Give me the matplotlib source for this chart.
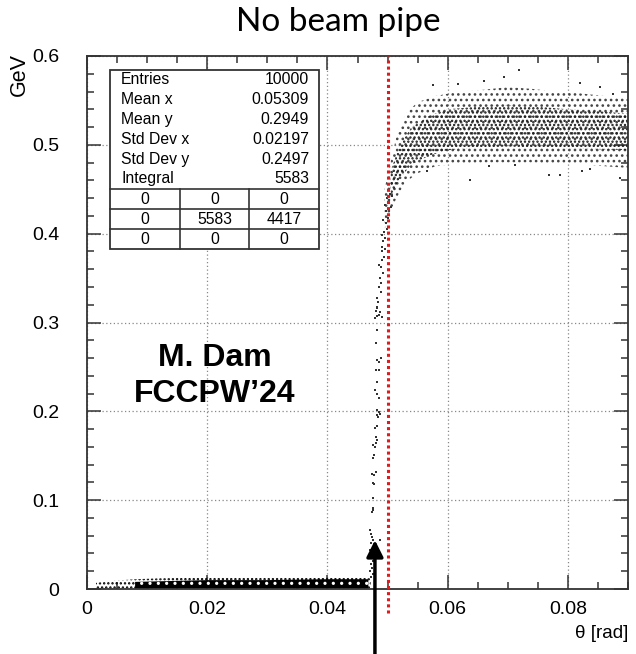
import matplotlib.pyplot as plt
from matplotlib.lines import Line2D
from matplotlib.patches import Rectangle
from matplotlib.ticker import MultipleLocator

plt.rcParams['font.family'] = ['Liberation Sans', 'DejaVu Sans']
plt.rcParams['hatch.linewidth'] = 1.1

# caja de estadisticas
stat_names = ['Entries', 'Mean x', 'Mean y', 'Std Dev x', 'Std Dev y', 'Integral']
stat_values = ['10000', '0.05309', '0.2949', '0.02197', '0.2497', '5583']
quadrants = [['0', '0', '0'],
             ['0', '5583', '4417'],
             ['0', '0', '0']]

# banda de baja energia (theta < borde)
low_x = [0.0015, 0.004, 0.008, 0.012, 0.020, 0.030, 0.040, 0.045, 0.0472]
low_lo = [0.0005, 0.0005, 0.0005, 0.0005, 0.0005, 0.0005, 0.0005, 0.0005, 0.0005]
low_hi = [0.007, 0.009, 0.011, 0.012, 0.013, 0.013, 0.013, 0.013, 0.012]
low_core_x = [0.008, 0.020, 0.030, 0.040, 0.0468]
low_core_hi = [0.008, 0.010, 0.010, 0.011, 0.011]

# meseta (envolvente exterior y nucleo denso)
band_x = [0.0495, 0.0505, 0.0515, 0.053, 0.055, 0.058, 0.062, 0.066, 0.070, 0.074, 0.078, 0.082, 0.086, 0.090]
band_lo = [0.405, 0.425, 0.440, 0.458, 0.468, 0.476, 0.479, 0.480, 0.480, 0.480, 0.479, 0.478, 0.476, 0.474]
band_hi = [0.450, 0.480, 0.510, 0.535, 0.548, 0.555, 0.560, 0.562, 0.565, 0.563, 0.560, 0.558, 0.555, 0.552]
core_x = [0.0505, 0.052, 0.054, 0.057, 0.060, 0.065, 0.070, 0.075, 0.080, 0.085, 0.090]
core_lo = [0.440, 0.462, 0.478, 0.488, 0.494, 0.497, 0.498, 0.497, 0.496, 0.495, 0.494]
core_hi = [0.470, 0.500, 0.520, 0.533, 0.540, 0.543, 0.545, 0.543, 0.540, 0.538, 0.535]

# puntos sueltos en la subida
rise_x = [0.0470, 0.0472, 0.0474, 0.0476, 0.0473, 0.0477, 0.0471, 0.0475, 0.0470, 0.0476,
          0.0472, 0.0474, 0.0471, 0.0476, 0.0473, 0.0487,
          0.0474, 0.0476, 0.0475, 0.0476, 0.0476, 0.0478, 0.0474, 0.0478, 0.0480,
          0.0476, 0.0478, 0.0476, 0.0480,
          0.0479, 0.0482, 0.0481, 0.0479, 0.0482, 0.0484, 0.0487, 0.0483, 0.0482, 0.0485,
          0.0486, 0.0482, 0.0479, 0.0483, 0.0486, 0.0480, 0.0482, 0.0485, 0.0489, 0.0480,
          0.0482, 0.0479, 0.0482, 0.0480,
          0.0482, 0.0485, 0.0490, 0.0483, 0.0484, 0.0487, 0.0482, 0.0489,
          0.0485, 0.0489, 0.0487, 0.0493, 0.0489, 0.0491, 0.0485, 0.0494, 0.0490,
          0.0491, 0.0495, 0.0493, 0.0496, 0.0490, 0.0494, 0.0499, 0.0497, 0.0492, 0.0500,
          0.0497, 0.0502, 0.0495, 0.0505, 0.0499, 0.0504, 0.0507]
rise_y = [0.066, 0.062, 0.058, 0.055, 0.052, 0.048, 0.044, 0.040, 0.036, 0.032,
          0.028, 0.024, 0.020, 0.017, 0.014, 0.055,
          0.087, 0.091, 0.089, 0.102, 0.119, 0.118, 0.130, 0.128, 0.132,
          0.147, 0.151, 0.162, 0.164,
          0.160, 0.168, 0.171, 0.181, 0.184, 0.194, 0.197, 0.201, 0.196, 0.199,
          0.215, 0.220, 0.224, 0.233, 0.246, 0.246, 0.258, 0.255, 0.260, 0.277,
          0.291, 0.305, 0.307, 0.313,
          0.316, 0.308, 0.306, 0.318, 0.323, 0.312, 0.328, 0.334,
          0.340, 0.345, 0.350, 0.356, 0.362, 0.370, 0.365, 0.374, 0.380,
          0.385, 0.383, 0.392, 0.395, 0.398, 0.402, 0.405, 0.412, 0.415, 0.418,
          0.425, 0.428, 0.432, 0.430, 0.440, 0.445, 0.442]

# puntos sueltos alrededor de la meseta
stray_x = [0.0637, 0.0669, 0.0712, 0.0769, 0.0787, 0.0823, 0.0837, 0.0887,
           0.0694, 0.0719, 0.0576, 0.0617, 0.0820, 0.0853, 0.0875, 0.0565, 0.0660]
stray_y = [0.460, 0.476, 0.477, 0.466, 0.466, 0.471, 0.473, 0.463,
           0.576, 0.584, 0.567, 0.569, 0.570, 0.565, 0.557, 0.470, 0.572]

xticks = [0, 0.02, 0.04, 0.06, 0.08]
xtick_labels = ['0', '0.02', '0.04', '0.06', '0.08']
yticks = [0, 0.1, 0.2, 0.3, 0.4, 0.5, 0.6]
ytick_labels = ['0', '0.1', '0.2', '0.3', '0.4', '0.5', '0.6']
pipe_edge = 0.05
arrow_theta = 0.0479

W, H = 636, 654


def fx(px):
    return px / W


def fy(py):
    return 1 - py / H


fig = plt.figure(figsize=(W / 100, H / 100), dpi=100)
ax = fig.add_axes([fx(87), fy(589), (628 - 87) / W, (589 - 56) / H])

# nube de puntos (punteado para imitar la densidad)
ax.fill_between(low_x, low_lo, low_hi, facecolor='none', edgecolor='k', hatch='....', lw=0)
ax.fill_between(low_core_x, 0.0005, low_core_hi, facecolor='black', edgecolor='white', hatch='..', lw=0)
ax.fill_between(band_x, band_lo, band_hi, facecolor='none', edgecolor='#444444', hatch='...', lw=0)
ax.fill_between(core_x, core_lo, core_hi, facecolor='none', edgecolor='#1a1a1a', hatch='....', lw=0)
ax.plot(rise_x, rise_y, 's', ms=1.9, mew=0, color='#333333')
ax.plot(stray_x, stray_y, 's', ms=1.9, mew=0, color='#333333')

# borde del tubo
ax.plot([pipe_edge, pipe_edge], [-0.027, 0.6], color='#e3191c', lw=2.2,
        ls=(0, (1, 1)), clip_on=False, zorder=4)
ax.annotate('', xy=(arrow_theta, 0.055), xytext=(arrow_theta, -0.075),
            xycoords='data', annotation_clip=False,
            arrowprops=dict(arrowstyle='-|>,head_length=0.5,head_width=0.25',
                            color='k', lw=2.5, mutation_scale=20, shrinkA=0, shrinkB=0))

ax.set_xlim(0, 0.09)
ax.set_ylim(0, 0.6)
ax.set_xticks(xticks, xtick_labels)
ax.set_yticks(yticks, ytick_labels)
ax.xaxis.set_minor_locator(MultipleLocator(0.005))
ax.yaxis.set_minor_locator(MultipleLocator(0.02))
ax.tick_params(which='both', direction='in', top=True, right=True, width=1.1, color='#333333')
ax.tick_params(which='major', length=10, labelsize=14, pad=9)
ax.tick_params(axis='y', which='major', pad=20)
ax.tick_params(which='minor', length=5)
for s in ax.spines.values():
    s.set_color('#333333')
    s.set_linewidth(1.3)
ax.grid(True, which='major', color='#888888', lw=0.9, ls=(0, (1, 2)))
ax.set_axisbelow(True)

# textos
fig.text(fx(338), fy(22), 'No beam pipe', ha='center', va='center', fontsize=24, family='Lato')
fig.text(fx(19), fy(75), 'GeV', rotation=90, ha='center', va='center', fontsize=15.5)
fig.text(fx(628), fy(634), 'θ [rad]', ha='right', va='center', fontsize=13.5)
fig.text(fx(215), fy(376), 'M. Dam\nFCCPW’24', ha='center', va='center', fontsize=23,
         fontweight='bold', linespacing=1.25, zorder=6)

# caja de estadisticas
box_l, box_r, box_t, box_b = 110, 319, 70, 249
fig.add_artist(Rectangle((fx(box_l), fy(box_b)), (box_r - box_l) / W, (box_b - box_t) / H,
                         transform=fig.transFigure, facecolor='white', edgecolor='#333333',
                         lw=1.3, zorder=5))
for i, (name, val) in enumerate(zip(stat_names, stat_values)):
    y = fy(80 + 19.8 * i)
    fig.text(fx(121), y, name, ha='left', va='center', fontsize=11.3, zorder=6)
    fig.text(fx(309), y, val, ha='right', va='center', fontsize=11.3, zorder=6)
for py in [189, 209, 229]:
    fig.add_artist(Line2D([fx(box_l), fx(box_r)], [fy(py), fy(py)], transform=fig.transFigure,
                          color='#333333', lw=1.2, zorder=6))
for px in [180, 249]:
    fig.add_artist(Line2D([fx(px), fx(px)], [fy(189), fy(box_b)], transform=fig.transFigure,
                          color='#333333', lw=1.2, zorder=6))
col_centers = [145, 214.5, 284]
for r, row in enumerate(quadrants):
    for c, val in enumerate(row):
        fig.text(fx(col_centers[c]), fy(199.5 + 20 * r), val, ha='center', va='center',
                 fontsize=11.3, zorder=6)

fig.savefig('out.png', dpi=100)
